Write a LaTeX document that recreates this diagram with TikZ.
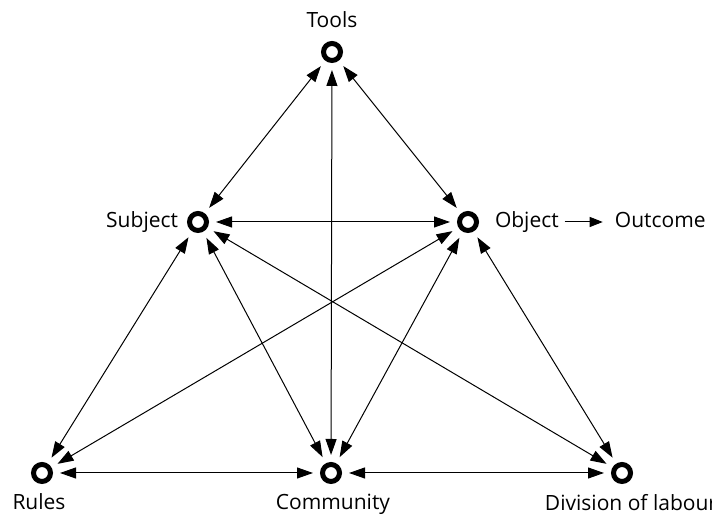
\documentclass[tikz,border=0pt]{standalone}
\usepackage{fontspec}
\setmainfont{Open Sans}
\usetikzlibrary{arrows.meta, positioning}

\begin{document}
\begin{tikzpicture}[x=1pt, y=1pt,
    vertex/.style={circle, draw, line width=5pt, fill=white, minimum size=17pt, inner sep=0pt, outer sep=9.5pt},
    link/.style={line width=1pt, {Triangle[length=16pt,width=11pt]}-{Triangle[length=16pt,width=11pt]}},
    every label/.style={font=\fontsize{21}{25}\selectfont, inner sep=0pt, outer sep=0pt}]
  \useasboundingbox (0,0) rectangle (712,518);
  % the six corners
  \node[vertex, label={[label distance=6pt]above:Tools}] (tools) at (332,466) {};
  \node[vertex, label={[label distance=2pt]left:Subject}] (subject) at (198,296) {};
  \node[vertex, label={[label distance=9pt, name=objlbl]right:Object}] (object) at (468,296) {};
  \node[vertex, label={[label distance=3pt, xshift=-3pt]below:Rules}] (rules) at (42,45) {};
  \node[vertex, label={[label distance=3pt, xshift=2pt]below:Community}] (community) at (331,45) {};
  \node[vertex, label={[label distance=3pt, xshift=9pt]below:Division of labour}] (division) at (622,45) {};
  % all the links
  \foreach \a/\b in {tools/subject, tools/object, tools/community,
      subject/object, subject/rules, subject/community, subject/division,
      object/rules, object/community, object/division,
      rules/community, community/division}
    \draw[link] (\a) -- (\b);
  % outcome
  \node[font=\fontsize{21}{25}\selectfont, inner sep=0pt, anchor=base west] (outcome) at ([xshift=56pt]objlbl.base east) {Outcome};
  \draw[line width=1pt, -{Triangle[length=13pt,width=10pt]}, shorten <=6pt, shorten >=12pt] (objlbl.east |- object) -- (outcome.west |- object);
\end{tikzpicture}
\end{document}
